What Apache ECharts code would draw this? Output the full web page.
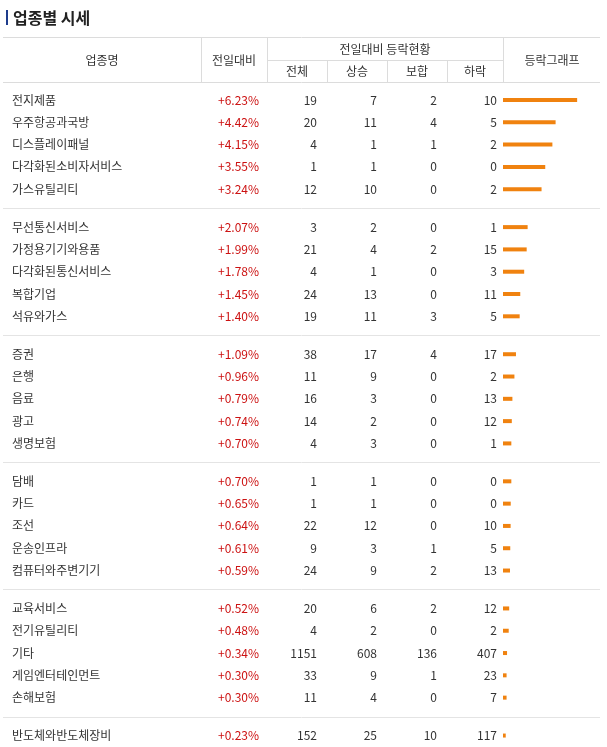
<!DOCTYPE html>
<html><head><meta charset="utf-8">
<script src="https://cdn.jsdelivr.net/npm/echarts@6/dist/echarts.min.js"></script>
<style>html,body{margin:0;padding:0;background:#fff}#c{width:607px;height:747px}</style>
</head><body><div id="c"></div>
<script>
var names=['전지제품','우주항공과국방','디스플레이패널','다각화된소비자서비스','가스유틸리티',
'무선통신서비스','가정용기기와용품','다각화된통신서비스','복합기업','석유와가스',
'증권','은행','음료','광고','생명보험',
'담배','카드','조선','운송인프라','컴퓨터와주변기기',
'교육서비스','전기유틸리티','기타','게임엔터테인먼트','손해보험',
'반도체와반도체장비'];
var change=[6.23,4.42,4.15,3.55,3.24,2.07,1.99,1.78,1.45,1.40,1.09,0.96,0.79,0.74,0.70,0.70,0.65,0.64,0.61,0.59,0.52,0.48,0.34,0.30,0.30,0.23];
var total=[19,20,4,1,12,3,21,4,24,19,38,11,16,14,4,1,1,22,9,24,20,4,1151,33,11,152];
var up=[7,11,1,1,10,2,4,1,13,11,17,9,3,2,3,1,1,12,3,9,6,2,608,9,4,25];
var flat=[2,4,1,0,0,0,2,0,0,3,4,0,0,0,0,0,0,0,1,2,2,0,136,1,0,10];
var down=[10,5,2,0,2,1,15,3,11,5,17,2,13,12,1,0,0,10,5,13,12,2,407,23,7,117];

var F='"Noto Sans CJK KR","Noto Sans",sans-serif';
function pos(i){return Math.floor(i/5)*5.7+(i%5);}
var rows=names.map(function(n,i){return [pos(i),i];});
var seps=[1,2,3,4,5].map(function(g){return [g*5.7-0.85];});
var yMin=-100/22.3,yMax=(747-100)/22.3;
var ch=echarts.init(document.getElementById('c'));
var tc='#333';
function hdr(t,x,y){return {type:'text',x:x,y:y,style:{text:t,fill:tc,font:'12px '+F,align:'center',verticalAlign:'middle'}};}
function line(x1,y1,x2,y2){return {type:'line',shape:{x1:x1,y1:y1,x2:x2,y2:y2},style:{stroke:'#dcdcdc',lineWidth:1}};}
ch.setOption({
 animation:false,
 grid:[{left:0,right:0,top:0,bottom:0},{left:503,right:0,top:0,bottom:0}],
 xAxis:[{gridIndex:0,type:'value',min:0,max:607,show:false},{gridIndex:1,type:'value',min:0,max:104/11.9,show:false}],
 yAxis:[{gridIndex:0,type:'value',inverse:true,min:yMin,max:yMax,show:false},{gridIndex:1,type:'value',inverse:true,min:yMin,max:yMax,show:false}],
 graphic:[
  {type:'rect',shape:{x:6,y:10,width:2,height:15},style:{fill:'#1e3c8c'}},
  {type:'text',x:13,y:18,style:{text:'업종별 시세',fill:'#222',font:'bold 16px '+F,verticalAlign:'middle'}},
  line(3,37.5,600,37.5),line(267,60.5,503,60.5),line(3,82.5,600,82.5),
  line(201.5,38,201.5,82),line(267.5,38,267.5,82),line(327.5,61,327.5,82),line(387.5,61,387.5,82),line(447.5,61,447.5,82),line(503.5,38,503.5,82),
  hdr('업종명',102,60),hdr('전일대비',234,60),hdr('전일대비 등락현황',385,49),
  hdr('전체',297,71),hdr('상승',357,71),hdr('보합',417,71),hdr('하락',475,71),hdr('등락그래프',552,60)
 ],
 series:[
 {type:'custom',xAxisIndex:0,yAxisIndex:0,data:seps,encode:{y:0},renderItem:function(p,api){
   var y=Math.round(api.coord([0,api.value(0)])[1])+0.5;
   return {type:'line',shape:{x1:3,y1:y,x2:600,y2:y},style:{stroke:'#e4e4e4',lineWidth:1}};}},
 {type:'custom',xAxisIndex:0,yAxisIndex:0,data:rows,encode:{y:0},renderItem:function(p,api){
   var i=api.value(1),y=api.coord([0,api.value(0)])[1];
   function t(s,x,al,c){return {type:'text',x:x,y:y,style:{text:s,x:0,y:0,fill:c||tc,font:'12px '+F,align:al,verticalAlign:'middle'}};}
   return {type:'group',children:[
     t(names[i],12,'left'),
     t('+'+change[i].toFixed(2)+'%',259,'right','#cc1111'),
     t(String(total[i]),317,'right'),t(String(up[i]),377,'right'),
     t(String(flat[i]),437,'right'),t(String(down[i]),497,'right')]};}},
 {type:'custom',xAxisIndex:1,yAxisIndex:1,data:rows.map(function(r,i){return [change[i],r[0]];}),encode:{x:0,y:1},renderItem:function(p,api){
   var a=api.coord([0,api.value(1)]),b=api.coord([api.value(0),api.value(1)]);
   return {type:'rect',shape:{x:a[0],y:a[1]-2,width:Math.max(b[0]-a[0],2),height:4},style:{fill:'#f0820f'}};}}
 ]
});
</script></body></html>
